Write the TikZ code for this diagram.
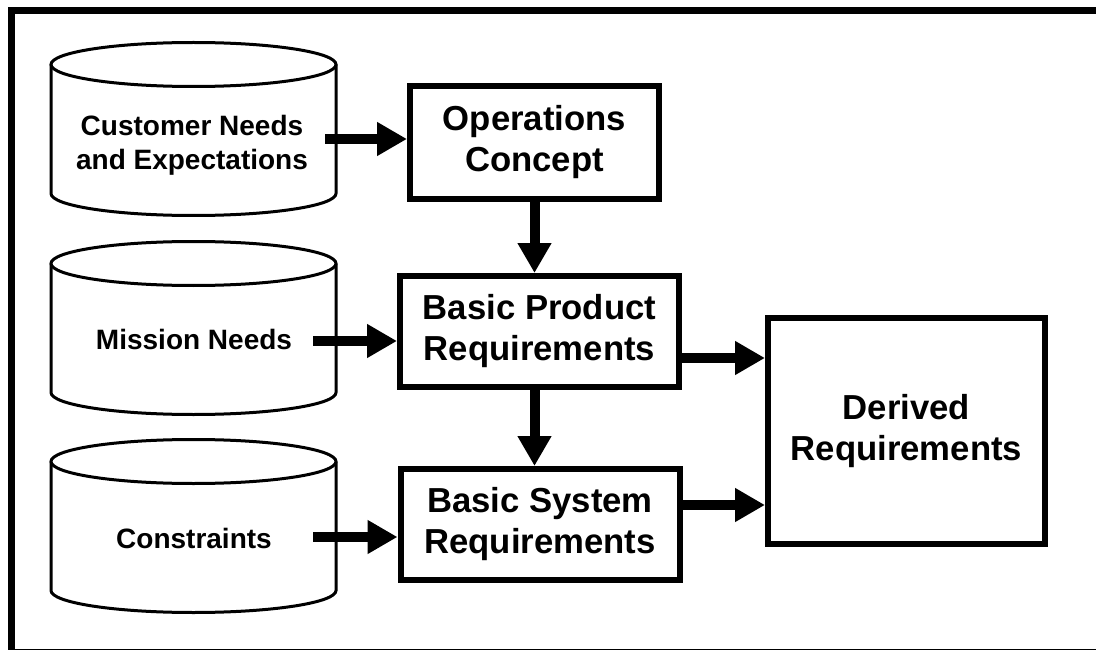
\documentclass[tikz,border=0pt]{standalone}
\usepackage{fontspec}
\setmainfont{Liberation Sans}
\usetikzlibrary{arrows.meta}

\begin{document}
\begin{tikzpicture}[x=1pt, y=-1pt,
    block/.style={draw, line width=6pt, align=center,
      font=\fontsize{34.7}{41}\selectfont\bfseries},
    store/.style={align=center, font=\fontsize{28}{34}\selectfont\bfseries},
    flow/.style={line width=10pt, -{Triangle[length=30pt, width=32pt]}}]
  \useasboundingbox (0,0) rectangle (1096,650);
  \clip (0,0) rectangle (1096,650);
  \draw[line width=7pt] (11,11) rectangle (1110,652);

  % data stores
  \foreach \t in {64.5, 263.5, 461.5} {
    \draw[line width=3pt] (193.5,\t) ellipse[x radius=142.5, y radius=22];
    \draw[line width=3pt] (51,\t) -- (51,\t+129)
      arc[start angle=180, end angle=0, x radius=142.5, y radius=22] -- (336,\t);
  }
  \node[store] (cust) at (192,145) {Customer Needs\\and Expectations};
  \node[store, anchor=base] (miss) at (194,349) {Mission Needs};
  \node[store, anchor=base] (cons) at (194,548) {Constraints};

  % process blocks
  \node[block, minimum width=249pt, minimum height=113pt] (ops) at (534.5,142.5) {Operations\\Concept};
  \node[block, minimum width=279pt, minimum height=111pt] (prod) at (539.5,331.5) {Basic Product\\Requirements};
  \node[block, minimum width=279pt, minimum height=111pt] (sys) at (540,524.5) {Basic System\\Requirements};
  \node[block, minimum width=277pt, minimum height=226pt] (der) at (906.5,431) {Derived\\Requirements};

  \coordinate (cust-out) at (325,139);
  \coordinate (miss-out) at (313,341);
  \coordinate (cons-out) at (313,537);
  \coordinate (prod-out) at ([yshift=-26.5pt]prod.east);
  \coordinate (sys-out) at ([yshift=19.5pt]sys.east);

  \draw[flow] (cust-out) -- (cust-out -| ops.west);
  \draw[flow] (miss-out) -- (miss-out -| prod.west);
  \draw[flow] (cons-out) -- (cons-out -| sys.west);
  \draw[flow] (ops.south) -- (ops.south |- prod.north);
  \draw[flow] (ops.south |- prod.south) -- (ops.south |- sys.north);
  \draw[flow] (prod-out) -- (prod-out -| der.west);
  \draw[flow] (sys-out) -- (sys-out -| der.west);
\end{tikzpicture}
\end{document}
